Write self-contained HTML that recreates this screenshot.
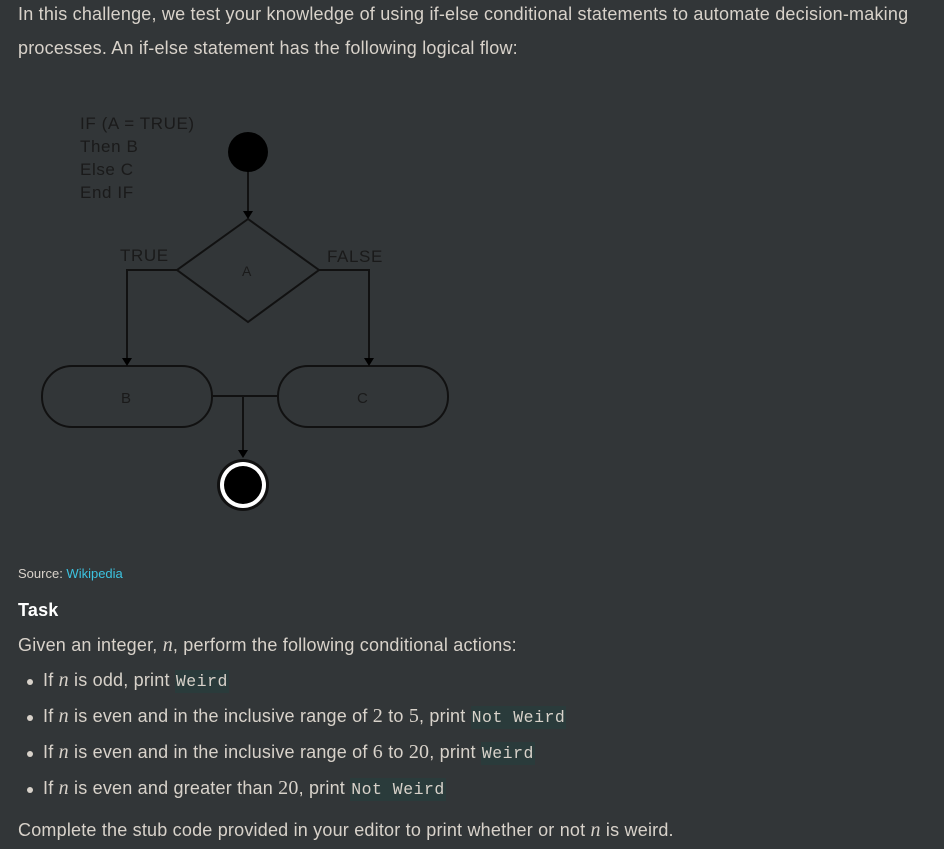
<!DOCTYPE html>
<html><head><meta charset="utf-8"><style>
body{margin:0;width:944px;height:849px;background:#323638;overflow:hidden;font-family:"Liberation Sans",sans-serif;color:#d8d2ca;position:relative}
.t{position:absolute;white-space:nowrap;font-size:18px;letter-spacing:0.2px}
.m{font-family:"Liberation Serif",serif;font-style:italic;font-size:20px}
.n{font-family:"Liberation Serif",serif;font-size:20px}
code{font-family:"Liberation Mono",monospace;font-size:16.5px;background:#2a3b3b;padding:2px 1px;letter-spacing:0.5px}
.b{position:absolute;left:27px;width:6px;height:6px;border-radius:50%;background:#d8d2ca}
</style></head><body>
<div class="t" style="left:18px;top:4px">In this challenge, we test your knowledge of using if-else conditional statements to automate decision-making</div>
<div class="t" style="left:18px;top:38px">processes. An if-else statement has the following logical flow:</div>
<svg style="position:absolute;left:0;top:0" width="944" height="540">
<g font-family="Liberation Sans,sans-serif" fill="#1a1a1a" font-size="17" letter-spacing="0.6">
<text x="80" y="129">IF (A = TRUE)</text>
<text x="80" y="152">Then B</text>
<text x="80" y="175">Else C</text>
<text x="80" y="198">End IF</text>
<text x="120" y="261">TRUE</text>
<text x="327" y="262">FALSE</text>
<text x="242" y="276" font-size="14">A</text>
<text x="121" y="403" font-size="15">B</text>
<text x="357" y="403" font-size="15">C</text>
</g>
<g stroke="#111" stroke-width="2" fill="none">
<line x1="248" y1="160" x2="248" y2="214"/>
<polygon points="248,219 177,270 248,322 319,270"/>
<polyline points="177,270 127,270 127,360"/>
<polyline points="319,270 369,270 369,360"/>
<rect x="42" y="366" width="170" height="61" rx="30"/>
<rect x="278" y="366" width="170" height="61" rx="30"/>
<line x1="212" y1="396" x2="278" y2="396"/>
<line x1="243" y1="396" x2="243" y2="452"/>
</g>
<g fill="#000">
<polygon points="243,211 253,211 248,219"/>
<polygon points="122,358 132,358 127,366"/>
<polygon points="364,358 374,358 369,366"/>
<polygon points="238,450 248,450 243,458"/>
<circle cx="248" cy="152" r="20"/>
<circle cx="243" cy="485" r="26" fill="#111"/>
<circle cx="243" cy="485" r="23" fill="#fff"/>
<circle cx="243" cy="485" r="19" fill="#000"/>
</g>
</svg>
<div class="t" style="left:18px;top:566px;font-size:13px;letter-spacing:0">Source: <span style="color:#3cc3e0">Wikipedia</span></div>
<div class="t" style="left:18px;top:600px;font-weight:bold;color:#fff">Task</div>
<div class="t" style="left:18px;top:634px">Given an integer, <span class="m">n</span>, perform the following conditional actions:</div>
<div class="b" style="top:679px"></div>
<div class="t" style="left:43px;top:669px">If <span class="m">n</span> is odd, print <code>Weird</code></div>
<div class="b" style="top:715px"></div>
<div class="t" style="left:43px;top:705px">If <span class="m">n</span> is even and in the inclusive range of <span class="n">2</span> to <span class="n">5</span>, print <code>Not Weird</code></div>
<div class="b" style="top:751px"></div>
<div class="t" style="left:43px;top:741px">If <span class="m">n</span> is even and in the inclusive range of <span class="n">6</span> to <span class="n">20</span>, print <code>Weird</code></div>
<div class="b" style="top:787px"></div>
<div class="t" style="left:43px;top:777px">If <span class="m">n</span> is even and greater than <span class="n">20</span>, print <code>Not Weird</code></div>
<div class="t" style="left:18px;top:819px">Complete the stub code provided in your editor to print whether or not <span class="m">n</span> is weird.</div>
</body></html>
